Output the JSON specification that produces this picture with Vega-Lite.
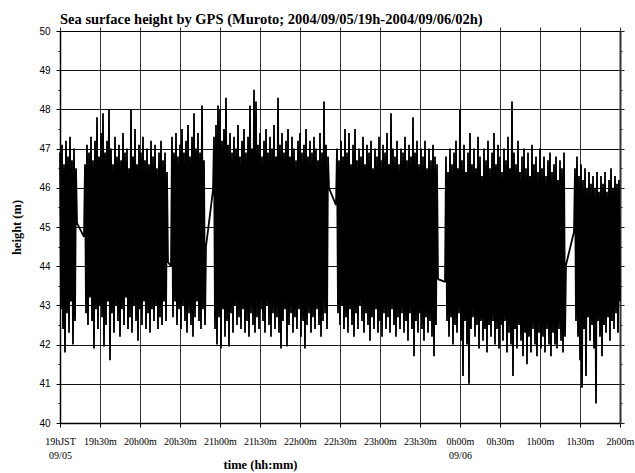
{
"$schema": "https://vega.github.io/schema/vega-lite/v6.json",
"width": 560, "height": 392,
"autosize": "none",
"padding": {"left": 60, "top": 31, "right": 15, "bottom": 50},
"background": "white",
"title": {"text": "Sea surface height by GPS (Muroto; 2004/09/05/19h-2004/09/06/02h)", "anchor": "start", "frame": "group", "font": "Liberation Serif", "fontSize": 14.5, "fontWeight": "bold", "color": "black", "baseline": "alphabetic", "offset": 2, "dy": 14},
"data": {"values": [
{"t":0,"h":46.9},{"t":0.75,"h":42.9},{"t":1.5,"h":47.1},{"t":2.25,"h":42.4},{"t":3,"h":46.6},{"t":3.75,"h":41.8},{"t":4.5,"h":47.2},{"t":5.25,"h":42.8},{"t":6,"h":46.8},{"t":6.75,"h":42.3},{"t":7.5,"h":47.3},{"t":8.25,"h":43.1},{"t":9,"h":46.7},{"t":9.75,"h":42.0},{"t":10.5,"h":47.0},{"t":11.25,"h":42.6},{"t":12,"h":46.5},{"t":12.75,"h":45.1},
{"t":18,"h":44.75},{"t":18.75,"h":46.6},{"t":19.5,"h":42.8},{"t":20.25,"h":47.1},{"t":21,"h":42.5},{"t":21.75,"h":46.9},{"t":22.5,"h":43.2},{"t":23.25,"h":47.3},{"t":24,"h":42.6},{"t":24.75,"h":46.7},{"t":25.5,"h":41.9},{"t":26.25,"h":47.2},{"t":27,"h":42.9},{"t":27.75,"h":47.8},{"t":28.5,"h":42.4},{"t":29.25,"h":46.8},{"t":30,"h":43.0},{"t":30.75,"h":47.4},{"t":31.5,"h":42.7},{"t":32.25,"h":47.9},{"t":33,"h":41.95},{"t":33.75,"h":46.9},{"t":34.5,"h":42.5},{"t":35.25,"h":47.2},{"t":36,"h":43.1},{"t":36.75,"h":48.0},{"t":37.5,"h":41.6},{"t":38.25,"h":47.0},{"t":39,"h":42.8},{"t":39.75,"h":46.6},{"t":40.5,"h":42.3},{"t":41.25,"h":47.3},{"t":42,"h":43.0},{"t":42.75,"h":46.8},{"t":43.5,"h":42.6},{"t":44.25,"h":47.1},{"t":45,"h":42.2},{"t":45.75,"h":46.7},{"t":46.5,"h":42.9},{"t":47.25,"h":47.4},{"t":48,"h":42.5},{"t":48.75,"h":46.9},{"t":49.5,"h":43.2},{"t":50.25,"h":47.0},{"t":51,"h":42.4},{"t":51.75,"h":46.5},{"t":52.5,"h":42.7},{"t":53.25,"h":48.0},{"t":54,"h":42.3},{"t":54.75,"h":46.8},{"t":55.5,"h":43.0},{"t":56.25,"h":47.5},{"t":57,"h":42.6},{"t":57.75,"h":46.6},{"t":58.5,"h":42.1},{"t":59.25,"h":47.1},{"t":60,"h":42.9},{"t":60.75,"h":46.9},{"t":61.5,"h":42.5},{"t":62.25,"h":47.3},{"t":63,"h":43.1},{"t":63.75,"h":46.7},{"t":64.5,"h":42.4},{"t":65.25,"h":47.0},{"t":66,"h":42.8},{"t":66.75,"h":46.6},{"t":67.5,"h":42.3},{"t":68.25,"h":47.2},{"t":69,"h":42.9},{"t":69.75,"h":46.8},{"t":70.5,"h":42.6},{"t":71.25,"h":47.1},{"t":72,"h":43.0},{"t":72.75,"h":46.5},{"t":73.5,"h":42.4},{"t":74.25,"h":46.9},{"t":75,"h":42.7},{"t":75.75,"h":47.2},{"t":76.5,"h":42.5},{"t":77.25,"h":46.7},{"t":78,"h":43.1},{"t":78.75,"h":46.9},{"t":79.5,"h":42.6},{"t":80.25,"h":46.4},{"t":81,"h":44.1},
{"t":83.25,"h":44.0},{"t":84,"h":47.3},{"t":84.75,"h":42.7},{"t":85.5,"h":46.9},{"t":86.25,"h":43.1},{"t":87,"h":47.4},{"t":87.75,"h":42.5},{"t":88.5,"h":46.8},{"t":89.25,"h":42.9},{"t":90,"h":47.1},{"t":90.75,"h":42.4},{"t":91.5,"h":47.5},{"t":92.25,"h":43.0},{"t":93,"h":46.9},{"t":93.75,"h":42.6},{"t":94.5,"h":47.2},{"t":95.25,"h":42.3},{"t":96,"h":47.6},{"t":96.75,"h":42.8},{"t":97.5,"h":46.8},{"t":98.25,"h":42.5},{"t":99,"h":47.3},{"t":99.75,"h":42.2},{"t":100.5,"h":47.9},{"t":101.25,"h":42.7},{"t":102,"h":47.0},{"t":102.75,"h":43.1},{"t":103.5,"h":47.4},{"t":104.25,"h":42.6},{"t":105,"h":46.9},{"t":105.75,"h":42.4},{"t":106.5,"h":48.1},{"t":107.25,"h":42.9},{"t":108,"h":46.7},{"t":108.75,"h":42.5},{"t":109.5,"h":44.5},
{"t":114.75,"h":45.94},{"t":115.5,"h":47.3},{"t":116.25,"h":42.4},{"t":117,"h":47.6},{"t":117.75,"h":42.0},{"t":118.5,"h":48.1},{"t":119.25,"h":42.7},{"t":120,"h":48.0},{"t":120.75,"h":41.9},{"t":121.5,"h":47.2},{"t":122.25,"h":42.9},{"t":123,"h":47.5},{"t":123.75,"h":42.2},{"t":124.5,"h":48.3},{"t":125.25,"h":42.6},{"t":126,"h":47.1},{"t":126.75,"h":41.95},{"t":127.5,"h":47.4},{"t":128.25,"h":42.8},{"t":129,"h":46.9},{"t":129.75,"h":42.3},{"t":130.5,"h":47.3},{"t":131.25,"h":43.0},{"t":132,"h":47.0},{"t":132.75,"h":42.5},{"t":133.5,"h":47.6},{"t":134.25,"h":42.7},{"t":135,"h":46.8},{"t":135.75,"h":42.4},{"t":136.5,"h":47.2},{"t":137.25,"h":42.9},{"t":138,"h":47.5},{"t":138.75,"h":42.3},{"t":139.5,"h":46.9},{"t":140.25,"h":42.6},{"t":141,"h":47.3},{"t":141.75,"h":42.2},{"t":142.5,"h":48.1},{"t":143.25,"h":42.8},{"t":144,"h":47.0},{"t":144.75,"h":42.5},{"t":145.5,"h":48.5},{"t":146.25,"h":42.3},{"t":147,"h":48.2},{"t":147.75,"h":42.7},{"t":148.5,"h":47.1},{"t":149.25,"h":42.4},{"t":150,"h":47.4},{"t":150.75,"h":42.9},{"t":151.5,"h":46.8},{"t":152.25,"h":42.6},{"t":153,"h":47.2},{"t":153.75,"h":42.3},{"t":154.5,"h":47.5},{"t":155.25,"h":43.0},{"t":156,"h":46.9},{"t":156.75,"h":42.5},{"t":157.5,"h":47.3},{"t":158.25,"h":42.2},{"t":159,"h":47.0},{"t":159.75,"h":42.8},{"t":160.5,"h":47.6},{"t":161.25,"h":42.4},{"t":162,"h":46.8},{"t":162.75,"h":42.7},{"t":163.5,"h":48.3},{"t":164.25,"h":42.3},{"t":165,"h":47.1},{"t":165.75,"h":41.9},{"t":166.5,"h":47.4},{"t":167.25,"h":42.6},{"t":168,"h":46.9},{"t":168.75,"h":42.9},{"t":169.5,"h":47.2},{"t":170.25,"h":41.95},{"t":171,"h":47.5},{"t":171.75,"h":42.5},{"t":172.5,"h":46.8},{"t":173.25,"h":42.8},{"t":174,"h":47.3},{"t":174.75,"h":42.3},{"t":175.5,"h":47.0},{"t":176.25,"h":42.7},{"t":177,"h":46.7},{"t":177.75,"h":42.4},{"t":178.5,"h":47.2},{"t":179.25,"h":42.9},{"t":180,"h":47.4},{"t":180.75,"h":42.2},{"t":181.5,"h":46.9},{"t":182.25,"h":42.6},{"t":183,"h":47.1},{"t":183.75,"h":41.9},{"t":184.5,"h":47.5},{"t":185.25,"h":42.5},{"t":186,"h":46.8},{"t":186.75,"h":42.8},{"t":187.5,"h":47.2},{"t":188.25,"h":42.3},{"t":189,"h":46.9},{"t":189.75,"h":42.7},{"t":190.5,"h":47.3},{"t":191.25,"h":42.4},{"t":192,"h":47.0},{"t":192.75,"h":42.9},{"t":193.5,"h":46.7},{"t":194.25,"h":42.5},{"t":195,"h":47.4},{"t":195.75,"h":42.2},{"t":196.5,"h":46.9},{"t":197.25,"h":42.6},{"t":198,"h":48.2},{"t":198.75,"h":42.8},{"t":199.5,"h":47.1},{"t":200.25,"h":42.4},{"t":201,"h":46.8},{"t":201.75,"h":45.99},
{"t":207,"h":45.56},{"t":207.75,"h":47.0},{"t":208.5,"h":42.8},{"t":209.25,"h":46.7},{"t":210,"h":42.5},{"t":210.75,"h":47.2},{"t":211.5,"h":43.0},{"t":212.25,"h":46.8},{"t":213,"h":42.4},{"t":213.75,"h":47.5},{"t":214.5,"h":42.7},{"t":215.25,"h":46.9},{"t":216,"h":42.3},{"t":216.75,"h":47.4},{"t":217.5,"h":42.9},{"t":218.25,"h":46.6},{"t":219,"h":42.5},{"t":219.75,"h":47.1},{"t":220.5,"h":42.2},{"t":221.25,"h":47.5},{"t":222,"h":42.8},{"t":222.75,"h":46.7},{"t":223.5,"h":42.4},{"t":224.25,"h":47.0},{"t":225,"h":43.0},{"t":225.75,"h":46.8},{"t":226.5,"h":42.6},{"t":227.25,"h":47.3},{"t":228,"h":42.3},{"t":228.75,"h":46.6},{"t":229.5,"h":42.8},{"t":230.25,"h":47.1},{"t":231,"h":42.5},{"t":231.75,"h":46.9},{"t":232.5,"h":42.1},{"t":233.25,"h":47.2},{"t":234,"h":42.7},{"t":234.75,"h":46.5},{"t":235.5,"h":42.4},{"t":236.25,"h":47.0},{"t":237,"h":42.9},{"t":237.75,"h":46.8},{"t":238.5,"h":42.3},{"t":239.25,"h":47.3},{"t":240,"h":42.6},{"t":240.75,"h":46.7},{"t":241.5,"h":42.2},{"t":242.25,"h":47.1},{"t":243,"h":42.8},{"t":243.75,"h":46.9},{"t":244.5,"h":42.4},{"t":245.25,"h":47.4},{"t":246,"h":42.7},{"t":246.75,"h":46.6},{"t":247.5,"h":42.3},{"t":248.25,"h":47.9},{"t":249,"h":42.9},{"t":249.75,"h":47.0},{"t":250.5,"h":42.5},{"t":251.25,"h":46.8},{"t":252,"h":42.2},{"t":252.75,"h":47.2},{"t":253.5,"h":42.7},{"t":254.25,"h":46.6},{"t":255,"h":42.4},{"t":255.75,"h":47.0},{"t":256.5,"h":42.8},{"t":257.25,"h":46.9},{"t":258,"h":42.3},{"t":258.75,"h":47.3},{"t":259.5,"h":42.6},{"t":260.25,"h":46.7},{"t":261,"h":42.1},{"t":261.75,"h":47.1},{"t":262.5,"h":42.8},{"t":263.25,"h":46.8},{"t":264,"h":42.4},{"t":264.75,"h":47.8},{"t":265.5,"h":41.7},{"t":266.25,"h":46.9},{"t":267,"h":42.6},{"t":267.75,"h":47.2},{"t":268.5,"h":42.3},{"t":269.25,"h":46.6},{"t":270,"h":42.8},{"t":270.75,"h":47.0},{"t":271.5,"h":42.4},{"t":272.25,"h":46.8},{"t":273,"h":42.1},{"t":273.75,"h":47.2},{"t":274.5,"h":42.7},{"t":275.25,"h":46.5},{"t":276,"h":42.3},{"t":276.75,"h":47.0},{"t":277.5,"h":42.6},{"t":278.25,"h":46.7},{"t":279,"h":42.2},{"t":279.75,"h":47.1},{"t":280.5,"h":41.7},{"t":281.25,"h":46.8},{"t":282,"h":42.5},{"t":282.75,"h":46.6},{"t":283.5,"h":43.67},
{"t":288.75,"h":43.6},{"t":289.5,"h":46.8},{"t":290.25,"h":42.6},{"t":291,"h":46.4},{"t":291.75,"h":42.2},{"t":292.5,"h":47.0},{"t":293.25,"h":42.7},{"t":294,"h":46.6},{"t":294.75,"h":42.0},{"t":295.5,"h":46.9},{"t":296.25,"h":42.5},{"t":297,"h":47.2},{"t":297.75,"h":42.3},{"t":298.5,"h":46.5},{"t":299.25,"h":42.8},{"t":300,"h":48.0},{"t":300.75,"h":42.1},{"t":301.5,"h":46.7},{"t":302.25,"h":41.2},{"t":303,"h":47.1},{"t":303.75,"h":42.6},{"t":304.5,"h":46.4},{"t":305.25,"h":42.0},{"t":306,"h":46.9},{"t":306.75,"h":41.0},{"t":307.5,"h":47.4},{"t":308.25,"h":42.4},{"t":309,"h":46.6},{"t":309.75,"h":42.7},{"t":310.5,"h":47.0},{"t":311.25,"h":42.2},{"t":312,"h":46.5},{"t":312.75,"h":42.5},{"t":313.5,"h":47.3},{"t":314.25,"h":41.9},{"t":315,"h":46.8},{"t":315.75,"h":42.6},{"t":316.5,"h":46.3},{"t":317.25,"h":42.1},{"t":318,"h":47.0},{"t":318.75,"h":42.4},{"t":319.5,"h":46.7},{"t":320.25,"h":41.8},{"t":321,"h":47.2},{"t":321.75,"h":42.5},{"t":322.5,"h":46.5},{"t":323.25,"h":42.2},{"t":324,"h":46.9},{"t":324.75,"h":42.6},{"t":325.5,"h":47.4},{"t":326.25,"h":42.0},{"t":327,"h":46.6},{"t":327.75,"h":42.4},{"t":328.5,"h":47.1},{"t":329.25,"h":41.9},{"t":330,"h":46.8},{"t":330.75,"h":42.5},{"t":331.5,"h":46.4},{"t":332.25,"h":42.1},{"t":333,"h":47.0},{"t":333.75,"h":42.6},{"t":334.5,"h":46.7},{"t":335.25,"h":41.8},{"t":336,"h":47.3},{"t":336.75,"h":42.3},{"t":337.5,"h":46.5},{"t":338.25,"h":42.0},{"t":339,"h":48.2},{"t":339.75,"h":41.2},{"t":340.5,"h":46.9},{"t":341.25,"h":42.4},{"t":342,"h":46.6},{"t":342.75,"h":41.9},{"t":343.5,"h":47.2},{"t":344.25,"h":42.5},{"t":345,"h":46.4},{"t":345.75,"h":42.1},{"t":346.5,"h":46.8},{"t":347.25,"h":41.7},{"t":348,"h":47.0},{"t":348.75,"h":42.3},{"t":349.5,"h":46.5},{"t":350.25,"h":41.5},{"t":351,"h":46.9},{"t":351.75,"h":42.2},{"t":352.5,"h":46.3},{"t":353.25,"h":41.8},{"t":354,"h":47.1},{"t":354.75,"h":42.4},{"t":355.5,"h":46.6},{"t":356.25,"h":42.0},{"t":357,"h":46.8},{"t":357.75,"h":41.7},{"t":358.5,"h":46.4},{"t":359.25,"h":42.3},{"t":360,"h":47.0},{"t":360.75,"h":41.9},{"t":361.5,"h":46.5},{"t":362.25,"h":42.2},{"t":363,"h":46.8},{"t":363.75,"h":41.8},{"t":364.5,"h":46.3},{"t":365.25,"h":42.4},{"t":366,"h":46.7},{"t":366.75,"h":42.0},{"t":367.5,"h":46.9},{"t":368.25,"h":41.7},{"t":369,"h":46.4},{"t":369.75,"h":42.3},{"t":370.5,"h":46.6},{"t":371.25,"h":42.0},{"t":372,"h":46.8},{"t":372.75,"h":41.9},{"t":373.5,"h":46.2},{"t":374.25,"h":42.4},{"t":375,"h":46.7},{"t":375.75,"h":42.1},{"t":376.5,"h":46.5},{"t":377.25,"h":41.8},{"t":378,"h":46.9},{"t":378.75,"h":42.2},{"t":379.5,"h":44.03},
{"t":385.5,"h":44.88},{"t":386.25,"h":46.5},{"t":387,"h":42.6},{"t":387.75,"h":46.8},{"t":388.5,"h":42.2},{"t":389.25,"h":46.3},{"t":390,"h":41.6},{"t":390.75,"h":46.6},{"t":391.5,"h":40.9},{"t":392.25,"h":46.2},{"t":393,"h":42.4},{"t":393.75,"h":46.5},{"t":394.5,"h":41.2},{"t":395.25,"h":46.0},{"t":396,"h":42.7},{"t":396.75,"h":46.4},{"t":397.5,"h":42.1},{"t":398.25,"h":46.1},{"t":399,"h":42.5},{"t":399.75,"h":46.3},{"t":400.5,"h":41.9},{"t":401.25,"h":46.0},{"t":402,"h":40.5},{"t":402.75,"h":46.4},{"t":403.5,"h":42.6},{"t":404.25,"h":45.9},{"t":405,"h":42.2},{"t":405.75,"h":46.3},{"t":406.5,"h":41.7},{"t":407.25,"h":46.1},{"t":408,"h":42.5},{"t":408.75,"h":46.4},{"t":409.5,"h":42.3},{"t":410.25,"h":45.9},{"t":411,"h":42.7},{"t":411.75,"h":46.2},{"t":412.5,"h":42.1},{"t":413.25,"h":46.5},{"t":414,"h":42.6},{"t":414.75,"h":46.0},{"t":415.5,"h":42.4},{"t":416.25,"h":46.3},{"t":417,"h":42.8},{"t":417.75,"h":46.1},{"t":418.5,"h":42.3},{"t":419.25,"h":46.2},{"t":420,"h":43.1}
]},
"layer": [
{
"mark": {"type": "line", "color": "black", "strokeWidth": 1.8, "strokeJoin": "bevel"},
"encoding": {
"x": {"field": "t", "type": "quantitative", "scale": {"domain": [0, 420], "nice": false, "zero": false},
"axis": {"orient": "bottom", "values": [0,30,60,90,120,150,180,210,240,270,300,330,360,390,420],
"grid": true, "gridColor": "#333", "gridWidth": 1,
"domainColor": "black", "domainWidth": 1.5, "tickColor": "black", "tickSize": 4, "tickWidth": 1,
"labelFont": "Liberation Serif", "labelFontSize": 10, "labelColor": "black", "labelPadding": 9, "labelLineHeight": 14,
"labelFlush": false, "labelOverlap": false, "labelBaseline": "top",
"labelExpr": "datum.value == 0 ? ['19hJST','09/05'] : datum.value == 300 ? ['0h00m','09/06'] : ((19 + floor(datum.value/60)) % 24) + 'h' + (datum.value % 60 == 0 ? '00' : '30') + 'm'",
"title": "time (hh:mm)", "titleFont": "Liberation Serif", "titleFontSize": 12.5, "titleFontWeight": "bold", "titleColor": "black",
"titleX": 200, "titleY": 45, "titleBaseline": "alphabetic", "titleAlign": "center"}},
"y": {"field": "h", "type": "quantitative", "scale": {"domain": [40, 50], "nice": false, "zero": false},
"axis": {"orient": "left", "values": [40,40.5,41,41.5,42,42.5,43,43.5,44,44.5,45,45.5,46,46.5,47,47.5,48,48.5,49,49.5,50],
"grid": true, "gridColor": "#111", "gridWidth": 1,
"gridOpacity": {"condition": {"test": "datum.value % 1 != 0", "value": 0}, "value": 1},
"tickSize": {"condition": {"test": "datum.value % 1 != 0", "value": 2}, "value": 4},
"domainColor": "black", "domainWidth": 1.5, "tickColor": "black", "tickWidth": 1,
"labelExpr": "datum.value % 1 == 0 ? format(datum.value, 'd') : ''",
"labelFont": "Liberation Sans", "labelFontSize": 10, "labelColor": "black", "labelPadding": 6, "labelOverlap": false,
"title": "height (m)", "titleFont": "Liberation Serif", "titleFontSize": 12.5, "titleFontWeight": "bold", "titleColor": "black", "titlePadding": 15}}
}
},
{
"mark": {"type": "line", "strokeOpacity": 0},
"encoding": {
"x": {"field": "t", "type": "quantitative",
"axis": {"orient": "top", "values": [0,30,60,90,120,150,180,210,240,270,300,330,360,390,420], "grid": false, "labels": false, "title": null,
"domainColor": "black", "domainWidth": 1, "tickColor": "#333", "tickSize": 4, "tickWidth": 1}},
"y": {"field": "h", "type": "quantitative",
"axis": {"orient": "right", "values": [40,40.5,41,41.5,42,42.5,43,43.5,44,44.5,45,45.5,46,46.5,47,47.5,48,48.5,49,49.5,50], "grid": false, "labels": false, "title": null,
"tickSize": {"condition": {"test": "datum.value % 1 != 0", "value": 2}, "value": 4},
"domainColor": "#333", "domainWidth": 2, "tickColor": "#222", "tickWidth": 1}}
}
}
],
"resolve": {"axis": {"x": "independent", "y": "independent"}},
"config": {"view": {"stroke": null}}
}
